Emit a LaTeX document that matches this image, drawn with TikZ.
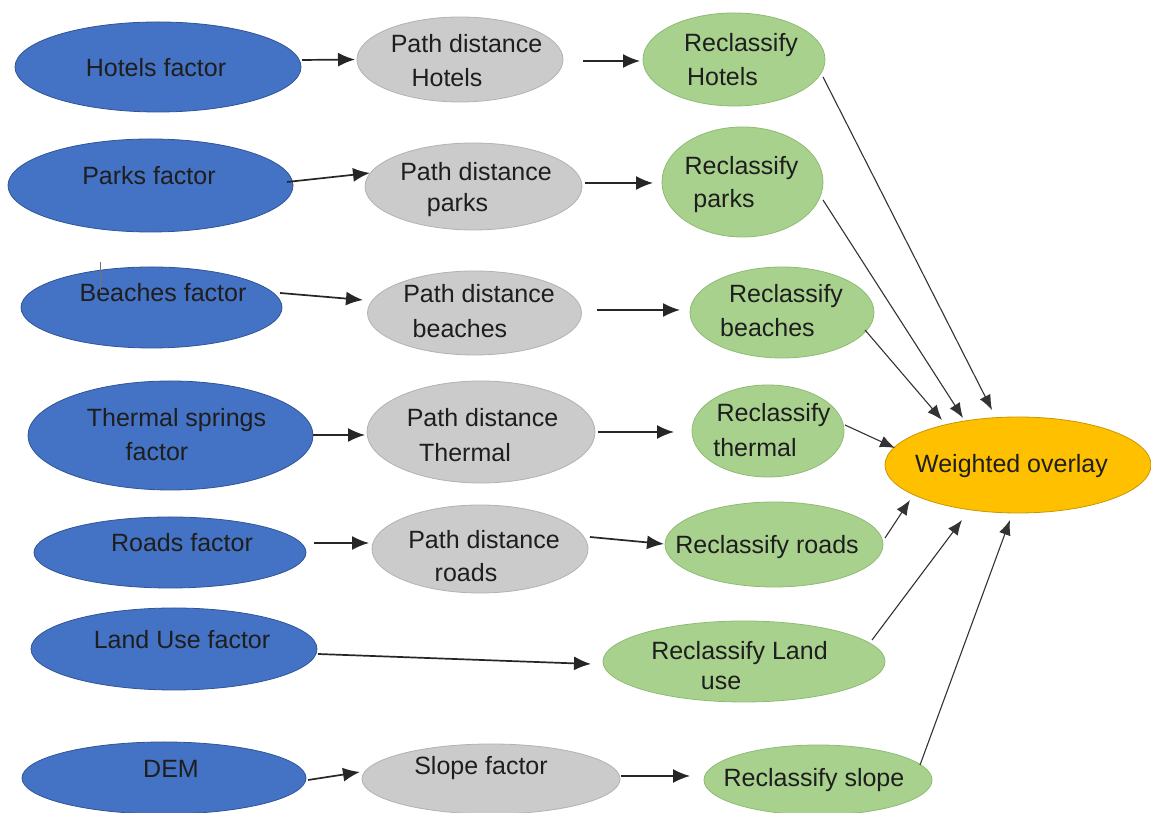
\documentclass[tikz,border=0pt]{standalone}
\usepackage{fontspec}
\setmainfont{Liberation Sans}
\usetikzlibrary{shapes.geometric,arrows.meta}
\definecolor{cblue}{HTML}{4472C4}
\definecolor{cblueD}{HTML}{2F5597}
\definecolor{cgray}{HTML}{CBCBCB}
\definecolor{cgrayD}{HTML}{B2B2B2}
\definecolor{cgreen}{HTML}{A9D18E}
\definecolor{cgreenD}{HTML}{8EBB72}
\definecolor{corange}{HTML}{FFC000}
\definecolor{corangeD}{HTML}{C89600}
\definecolor{ctext}{HTML}{1E1E1E}
\newcommand\tx[3]{\raisebox{\dimexpr#2pt-9pt\relax}[0pt][0pt]{\makebox[0pt]{\kern#1pt\kern#1pt #3}}}
\begin{document}
\begin{tikzpicture}[x=1pt,y=1pt,
  el/.style={ellipse, inner sep=0pt, outer sep=0pt, line width=0.8pt, text=ctext,
    font=\fontsize{25}{30}\selectfont},
  sz/.style 2 args={minimum width=#1pt, minimum height=#2pt},
  bl/.style={el, fill=cblue, draw=cblueD},
  gr/.style={el, fill=cgray, draw=cgrayD},
  gn/.style={el, fill=cgreen, draw=cgreenD},
  og/.style={el, fill=corange, draw=corangeD},
  arr/.style={-{Latex[length=17pt,width=14pt]}, line width=1.7pt, draw=black!85},
  darr/.style={-{Latex[length=15pt,width=12pt]}, line width=1.1pt, draw=black!80}]
\useasboundingbox (0,0) rectangle (1151,813);
\fill[white] (0,0) rectangle (1151,813);

% blue factors
\node[bl, sz={286}{90}] (hf) at (158,746) {\tx{-2}{-0.5}{Hotels factor}};
\node[bl, sz={285}{93}] (pf) at (150.5,627.5) {\tx{-1.5}{9.5}{Parks factor}};
\node[bl, sz={261}{81}] (bf) at (151.5,505.5) {\tx{11.5}{15}{Beaches factor}};
\node[bl, sz={285}{109}] (tf) at (170.5,377.5) {\tx{6}{17.5}{Thermal springs}\tx{-13.5}{-16}{factor}};
\node[bl, sz={272}{71}] (rf) at (170,260.5) {\tx{12}{10}{Roads factor}};
\node[bl, sz={286}{82}] (lf) at (174,164) {\tx{8}{9.5}{Land Use factor}};
\node[bl, sz={284}{72}] (df) at (164,35) {\tx{7}{9.5}{DEM}};

% gray path distance
\node[gr, sz={206}{85}] (pdh) at (460,753.5) {\tx{6.5}{16}{Path distance}\tx{-13}{-18.5}{Hotels}};
\node[gr, sz={217}{87}] (pdp) at (473.5,626.5) {\tx{2.5}{15}{Path distance}\tx{-16}{-16}{parks}};
\node[gr, sz={214}{84}] (pdb) at (474.5,500) {\tx{4.5}{19}{Path distance}\tx{-14.5}{-16}{beaches}};
\node[gr, sz={228}{102}] (pdt) at (481,381) {\tx{1.5}{14}{Path distance}\tx{-16}{-21}{Thermal}};
\node[gr, sz={216}{88}] (pdr) at (480,264) {\tx{4}{9.5}{Path distance}\tx{-14}{-23.5}{roads}};
\node[gr, sz={258}{70}] (sf) at (491,34) {\tx{-10}{13}{Slope factor}};

% green reclassify
\node[gn, sz={182}{93}] (rh) at (734,753.5) {\tx{7}{16.5}{Reclassify}\tx{-11.5}{-17.5}{Hotels}};
\node[gn, sz={161}{110}] (rp) at (742.5,631) {\tx{-1}{16.5}{Reclassify}\tx{-18.5}{-16.5}{parks}};
\node[gn, sz={184}{91}] (rb) at (782,500.5) {\tx{4}{18.5}{Reclassify}\tx{-14.5}{-15}{beaches}};
\node[gn, sz={152}{92}] (rt) at (768,382) {\tx{5.5}{18}{Reclassify}\tx{-13}{-16.5}{thermal}};
\node[gn, sz={218}{85}] (rr) at (774,268.5) {\tx{-7}{-0.5}{Reclassify roads}};
\node[gn, sz={282}{81}] (rl) at (744,151.5) {\tx{-4.5}{11}{Reclassify Land}\tx{-23}{-19.5}{use}};
\node[gn, sz={228}{70}] (rs) at (818,33) {\tx{-4}{2.5}{Reclassify slope}};

% orange
\node[og, sz={266}{96}] (wo) at (1018,348) {\tx{-6.5}{1.5}{Weighted overlay}};

% stray mark
\draw[line width=0.8pt, draw=black!55] (100,551) -- (100,521);

% horizontal connectors
\draw[arr] ([shift={(1,7)}]hf.east) -- ([shift={(-2,0)}]pdh.west);
\draw[arr] ([shift={(20,-1.5)}]pdh.east) -- ([shift={(-3,-1.5)}]rh.west);
\draw[arr] ([shift={(-6,3.5)}]pf.east) -- ([shift={(5,13.5)}]pdp.west);
\draw[arr] ([shift={(3,3.5)}]pdp.east) -- ([shift={(-9,-1)}]rp.west);
\draw[arr] ([shift={(-2,14.5)}]bf.east) -- ([shift={(-4.5,13)}]pdb.west);
\draw[arr] ([shift={(15.5,3)}]pdb.east) -- ([shift={(-10,2.5)}]rb.west);
\draw[arr] ([shift={(0,0.5)}]tf.east) -- ([shift={(-2,-3)}]pdt.west);
\draw[arr] ([shift={(3,0)}]pdt.east) -- ([shift={(-18,-1)}]rt.west);
\draw[arr] ([shift={(8,9.5)}]rf.east) -- ([shift={(-3,6)}]pdr.west);
\draw[arr] ([shift={(2,12)}]pdr.east) -- ([shift={(-1,0.5)}]rr.west);
\draw[arr] ([shift={(1,-5)}]lf.east) -- ([shift={(-12,-2.5)}]rl.west);
\draw[arr] ([shift={(2,-2)}]df.east) -- ([shift={(-2,7)}]sf.west);
\draw[arr] ([shift={(1,3)}]sf.east) -- ([shift={(-14,4)}]rs.west);

% into weighted overlay
\draw[darr] ([shift={(-2,-17.5)}]rh.east) -- ([shift={(-26,7)}]wo.north);
\draw[darr] ([shift={(0,-18)}]rp.east) -- ([shift={(-55,-1)}]wo.north);
\draw[darr] ([shift={(-9,-17.5)}]rb.east) -- ([shift={(-76,-3)}]wo.north);
\draw[darr] ([shift={(1,6)}]rt.east) -- ([shift={(10,17)}]wo.west);
\draw[darr] ([shift={(2,6.5)}]rr.east) -- ([shift={(25,-35)}]wo.west);
\draw[darr] ([shift={(-13,21.5)}]rl.east) -- ([shift={(-56,-7)}]wo.south);
\draw[darr] ([shift={(-12,15)}]rs.east) -- ([shift={(-8,-7)}]wo.south);
\end{tikzpicture}
\end{document}
